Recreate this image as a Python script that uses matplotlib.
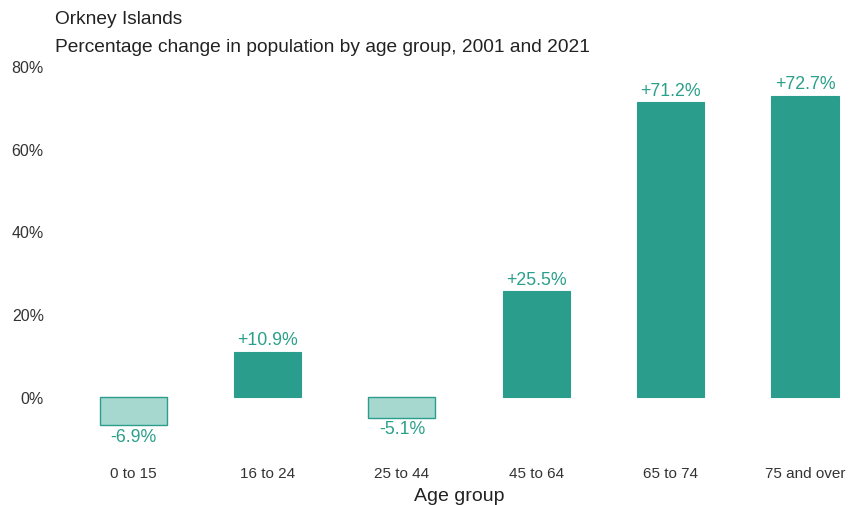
import matplotlib
matplotlib.use("Agg")
import matplotlib.pyplot as plt
from matplotlib.ticker import FuncFormatter

plt.rcParams['font.family'] = ['Liberation Sans', 'DejaVu Sans']

age_groups = ["0 to 15", "16 to 24", "25 to 44", "45 to 64", "65 to 74", "75 and over"]
pct_change = [-6.9, 10.9, -5.1, 25.5, 71.2, 72.7]
y_ticks = [0, 20, 40, 60, 80]

teal = "#2a9d8c"
teal_light = "#a6d8cf"
label_col = "#2aa08a"

W, H = 853, 506
fig = plt.figure(figsize=(W / 100, H / 100), dpi=100)
left, right, top, bottom = 66, 852, 67, 450
ax = fig.add_axes([left / W, 1 - bottom / H, (right - left) / W, (bottom - top) / H])

x = list(range(len(age_groups)))
for xi, v in zip(x, pct_change):
    if v >= 0:
        ax.bar(xi, v, width=0.5, color=teal, edgecolor=teal, linewidth=0.8)
        ax.text(xi, v + 0.9, f"+{v:.1f}%", ha="center", va="bottom",
                color=label_col, fontsize=12.8)
    else:
        ax.bar(xi, v, width=0.5, color=teal_light, edgecolor=teal, linewidth=1.0)
        ax.text(xi, v - 0.6, f"{v:.1f}%", ha="center", va="top",
                color=label_col, fontsize=12.8)

ax.set_xlim(-0.5, 5.35)
ax.set_ylim(-12.6, 80)
ax.set_yticks(y_ticks)
ax.yaxis.set_major_formatter(FuncFormatter(lambda v, p: f"{v:.0f}%"))
ax.set_xticks(x)
ax.set_xticklabels(age_groups)
ax.tick_params(axis="both", length=0, labelsize=11, colors="#333333")
ax.tick_params(axis="y", pad=16, labelsize=11.5)
ax.tick_params(axis="x", pad=12)
for s in ax.spines.values():
    s.set_visible(False)
ax.set_xlabel("Age group", fontsize=14, color="#222222", labelpad=5)

fig.text(55 / W, 1 - 20 / H, "Orkney Islands", fontsize=13.8, color="#222222",
         ha="left", va="center")
fig.text(55 / W, 1 - 48 / H, "Percentage change in population by age group, 2001 and 2021",
         fontsize=13.8, color="#222222", ha="left", va="center")

fig.savefig("out.png", dpi=100)
